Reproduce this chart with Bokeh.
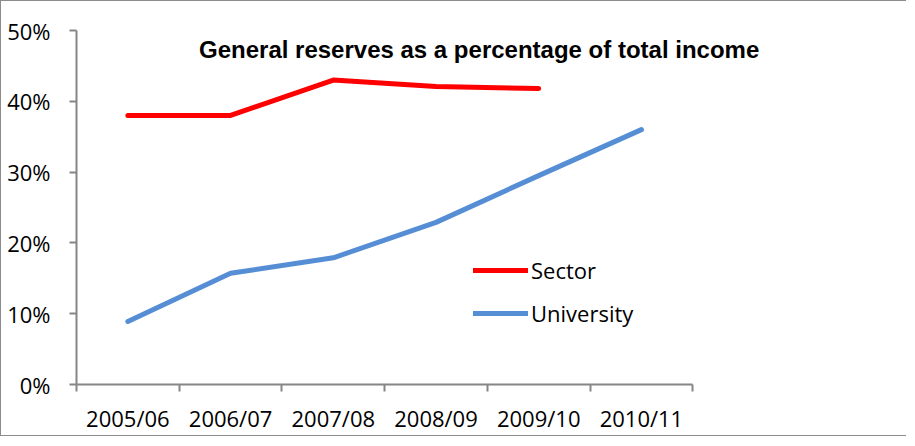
from bokeh.plotting import figure
from bokeh.models import (Range1d, FixedTicker, NumeralTickFormatter, Label,
                          Legend, LegendItem)
from bokeh.embed import file_html
from bokeh.resources import INLINE

# ---- data ----
years = ["2005/06", "2006/07", "2007/08", "2008/09", "2009/10", "2010/11"]
sector = [0.380, 0.380, 0.430, 0.421, 0.418]
university = [0.089, 0.157, 0.179, 0.229, 0.295, 0.360]
y_ticks = [0.0, 0.1, 0.2, 0.3, 0.4, 0.5]
title_text = "General reserves as a percentage of total income"

xs_sector = [i + 0.5 for i in range(len(sector))]
xs_univ = [i + 0.5 for i in range(len(university))]
n = len(years)

p = figure(width=906, height=436, output_backend="svg", toolbar_location=None,
           x_range=Range1d(0, 7.0), y_range=Range1d(0, 0.5),
           min_border_left=75, min_border_right=112, min_border_top=29,
           min_border_bottom=53)
p.styles = {"border-left": "1px solid #8c8c8c",
            "border-top": "1px solid #8c8c8c",
            "border-bottom": "1px solid #8c8c8c"}
p.xgrid.visible = False
p.ygrid.visible = False
p.outline_line_color = None
p.background_fill_color = "white"
p.border_fill_color = "white"

axis_col = "#868686"
font = "Open Sans"

# x axis: labels at category centres, ticks at boundaries (minor ticks)
p.xaxis.bounds = (0, n)
p.xaxis.ticker = FixedTicker(ticks=xs_univ, minor_ticks=list(range(n + 1)))
p.xaxis.major_label_overrides = {x: y for x, y in zip(xs_univ, years)}
p.xaxis.major_tick_in = 0
p.xaxis.major_tick_out = 0
p.xaxis.minor_tick_in = 0
p.xaxis.minor_tick_out = 7
p.xaxis.minor_tick_line_color = axis_col
p.xaxis.minor_tick_line_width = 2
p.xaxis.axis_line_color = axis_col
p.xaxis.axis_line_width = 2
p.xaxis.major_label_text_font = font
p.xaxis.major_label_text_font_size = "22px"
p.xaxis.major_label_text_color = "black"
p.xaxis.major_label_standoff = 11

p.yaxis.ticker = FixedTicker(ticks=y_ticks, minor_ticks=[])
p.yaxis.formatter = NumeralTickFormatter(format="0%")
p.yaxis.major_tick_in = 0
p.yaxis.major_tick_out = 7
p.yaxis.major_tick_line_color = axis_col
p.yaxis.major_tick_line_width = 2
p.yaxis.axis_line_color = axis_col
p.yaxis.axis_line_width = 2
p.yaxis.major_label_text_font = font
p.yaxis.major_label_text_font_size = "22px"
p.yaxis.major_label_text_color = "black"
p.yaxis.major_label_standoff = 19

r_sector = p.line(xs_sector, sector, line_color="#ff0000", line_width=5,
                  line_cap="round", line_join="round")
r_univ = p.line(xs_univ, university, line_color="#558ed5", line_width=5,
                line_cap="round", line_join="round")

legend = Legend(items=[LegendItem(label="Sector", renderers=[r_sector]),
                       LegendItem(label="University", renderers=[r_univ])],
                location=(397, 56), orientation="vertical",
                glyph_width=55, glyph_height=30, label_height=30,
                label_standoff=3, spacing=13, padding=0, margin=0,
                label_text_font=font, label_text_font_size="22px",
                label_text_color="black",
                background_fill_alpha=0, border_line_alpha=0)
p.add_layout(legend)

title = Label(x=3.92, y=0.473, text=title_text, text_align="center",
              text_baseline="middle", text_font="Liberation Sans",
              text_font_style="bold", text_font_size="24px", text_color="black")
p.add_layout(title)

open("out.html", "w").write(file_html(p, INLINE))
